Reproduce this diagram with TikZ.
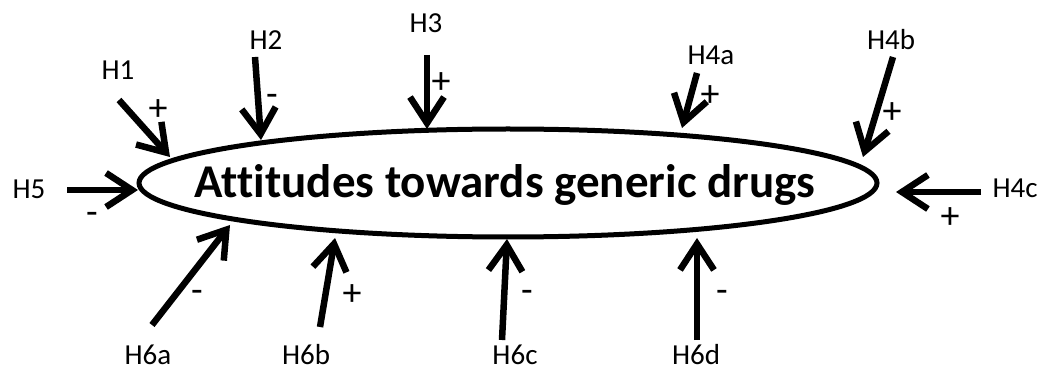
\documentclass[tikz,border=0pt]{standalone}
\usepackage{fontspec}
\setmainfont{Carlito}[Ligatures=NoCommon]
\usetikzlibrary{arrows.meta,shapes.geometric}
\tikzset{
  hyp/.style={font=\fontsize{29}{32}\selectfont, inner sep=0pt, anchor=base},
  sgn/.style={font=\fontsize{38}{42}\selectfont, inner sep=0pt, anchor=base},
  infl/.style={line width=6.5pt, -{Straight Barb[length=26pt,width=34pt]}},
}
\begin{document}
\begin{tikzpicture}[x=1pt,y=-1pt]
\useasboundingbox[fill=white] (0,0) rectangle (1043,371);
\node[draw, ellipse, line width=5pt, minimum width=738pt, minimum height=108pt, inner sep=0pt] (e) at (508,183) {};
\node[font=\fontsize{47}{50}\selectfont\bfseries, inner sep=0pt, anchor=base] (t) at (505,198) {Attitudes towards generic drugs};

% labels (base anchored at the bottom of the capitals)
\node[hyp] (h1) at (118,80) {H1};
\node[hyp] (h2) at (266,50) {H2};
\node[hyp] (h3) at (426,33) {H3};
\node[hyp] (h4a) at (711,65) {H4a};
\node[hyp] (h4b) at (891,50) {H4b};
\node[hyp] (h4c) at (1015,198) {H4c};
\node[hyp] (h5) at (29,199) {H5};
\node[hyp] (h6a) at (148,364) {H6a};
\node[hyp] (h6b) at (306,364) {H6b};
\node[hyp] (h6c) at (515,364) {H6c};
\node[hyp] (h6d) at (696,364) {H6d};

% arrow start and tip points
\coordinate (s1) at (119,100); \coordinate (t1) at (170,157);
\coordinate (s2) at (255,57);  \coordinate (t2) at (261,140);
\coordinate (s3) at (427,55);  \coordinate (t3) at (427,129);
\coordinate (s4a) at (697,73); \coordinate (t4a) at (682,128);
\coordinate (s4b) at (893,57); \coordinate (t4b) at (863,157);
\coordinate (s4c) at (981,192); \coordinate (t4c) at (896,192);
\coordinate (s5) at (67,190);  \coordinate (t5) at (138,190);
\coordinate (s6a) at (152,325); \coordinate (t6a) at (230,225);
\coordinate (s6b) at (320,327); \coordinate (t6b) at (335,238);
\coordinate (s6c) at (502,340); \coordinate (t6c) at (507,239);
\coordinate (s6d) at (697,340); \coordinate (t6d) at (697,238);

\draw[infl] (s1) -- (t1);
\draw[infl] (s2) -- (t2);
\draw[infl] (s3) -- (t3);
\draw[infl] (s4a) -- (t4a);
\draw[infl] (s4b) -- (t4b);
\draw[infl] (s4c) -- (t4c);
\draw[infl] (s5) -- (t5);
\draw[infl] (s6a) -- (t6a);
\draw[infl] (s6b) -- (t6b);
\draw[infl] (s6c) -- (t6c);
\draw[infl] (s6d) -- (t6d);

% signs (base anchored)
\node[sgn] (p1) at (158,121) {+};
\node[sgn] (p2) at (272,107) {-};
\node[sgn] (p3) at (441,94) {+};
\node[sgn] (p4a) at (710,107) {+};
\node[sgn] (p4b) at (892,124) {+};
\node[sgn] (p4c) at (950,229) {+};
\node[sgn] (p5) at (92,225) {-};
\node[sgn] (p6a) at (197,302) {-};
\node[sgn] (p6b) at (352,305) {+};
\node[sgn] (p6c) at (527,302) {-};
\node[sgn] (p6d) at (722,302) {-};
\end{tikzpicture}
\end{document}
